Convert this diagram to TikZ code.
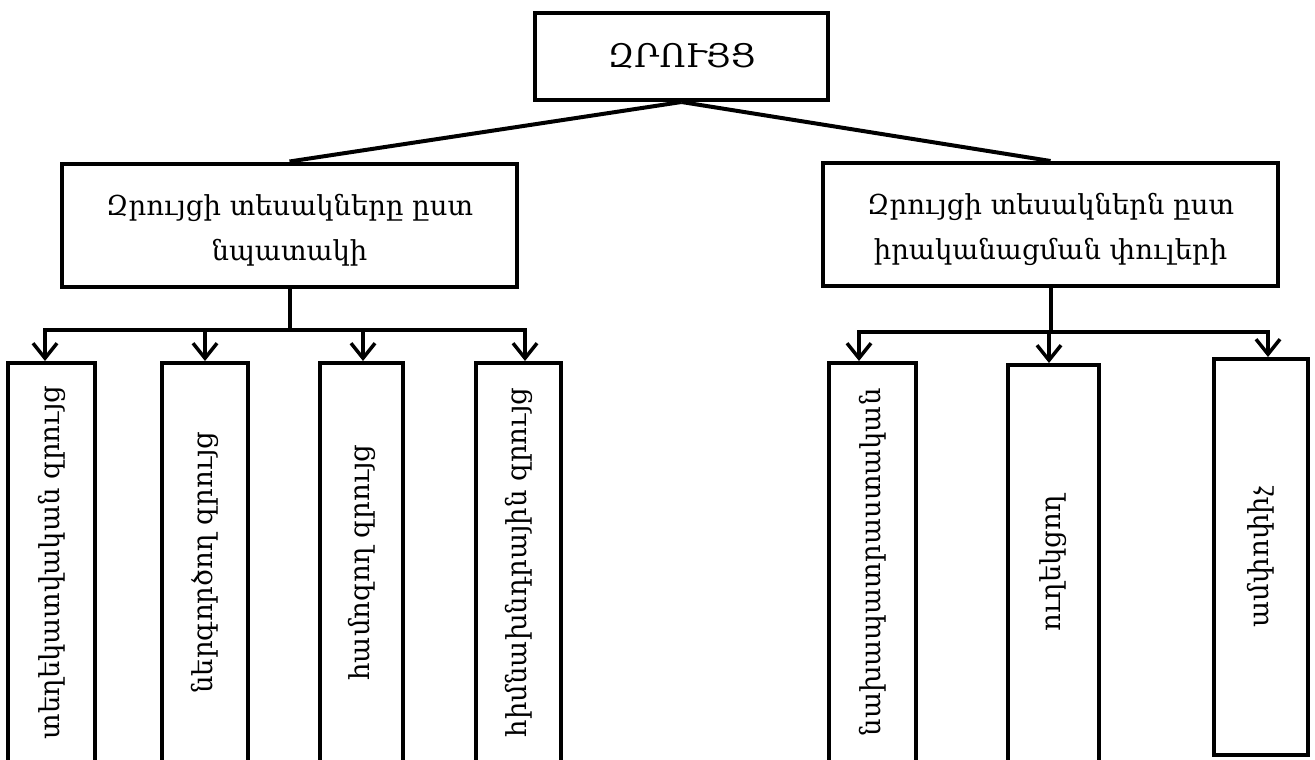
\documentclass[tikz,border=0pt]{standalone}
\usepackage{fontspec}
\setmainfont{DejaVu Serif}
\usetikzlibrary{arrows.meta}
\begin{document}
\begin{tikzpicture}[x=1pt,y=-1pt,
  box/.style={draw,line width=4pt,inner sep=0pt,align=center},
  topbox/.style={box,minimum width=293pt,minimum height=87pt,font=\fontsize{32.5}{38}\selectfont},
  midbox/.style={box,minimum width=455pt,minimum height=123pt},
  midtext/.style={align=center,inner sep=0pt,font=\fontsize{27.5}{45}\selectfont},
  vbox/.style={box,minimum height=399pt,font=\fontsize{27.5}{32}\selectfont},
  conn/.style={line width=4pt},
  arr/.style={line width=4pt,-{Straight Barb[length=15pt,width=24pt,line width=3.5pt]}}]
\useasboundingbox (0,0) rectangle (1315,760);
\node[topbox] (top) at (681.5,56.5) {ԶՐՈՒՅՑ};
\node[midbox] (lm) at (289.5,225) {};
\node[midtext] (lmt) at ([yshift=-5pt]lm.center) {Զրույցի տեսակները ըստ\\նպատակի};
\node[midbox] (rm) at (1050.5,224.5) {};
\node[midtext] (rmt) at ([yshift=-5pt]rm.center) {Զրույցի տեսակներն ըստ\\իրականացման փուլերի};
\node[vbox,minimum width=87pt] (b1) at (51.5,562.5) {\rotatebox{90}{տեղեկատվական զրույց}};
\node[vbox,minimum width=86pt] (b2) at (205,562.5) {\rotatebox{90}{ներգործող զրույց}};
\node[vbox,minimum width=83pt] (b3) at (361.5,562.5) {\rotatebox{90}{համոզող զրույց}};
\node[vbox,minimum width=85pt] (b4) at (518.5,562.5) {\rotatebox{90}{հիմնախնդրային զրույց}};
\node[vbox,minimum width=87pt] (r1) at (872.5,562.5) {\rotatebox{90}{նախապատրաստական}};
\node[vbox,minimum width=91pt,minimum height=397pt] (r2) at (1053.5,563.5) {\rotatebox{90}{ուղեկցող}};
\node[vbox,minimum width=94pt,minimum height=396pt] (r3) at (1261,557) {\rotatebox{90}{ամփոփիչ}};
\draw[conn] (top.south) -- (lm.north);
\draw[conn] (top.south) -- (rm.north);
\coordinate (bl1) at (45,330);
\coordinate (bl2) at (205,330);
\coordinate (bl3) at (363,330);
\coordinate (bl4) at (525,330);
\coordinate (br1) at (859,332);
\coordinate (br2) at (1049,332);
\coordinate (br3) at (1268,332);
\draw[conn] (lm.south) -- (lm.south |- bl1);
\draw[conn] (rm.south) -- (rm.south |- br1);
\draw[conn,line cap=rect] (bl1) -- (bl4);
\draw[conn,line cap=rect] (br1) -- (br3);
\draw[arr] (bl1) -- (bl1 |- b1.north);
\draw[arr] (bl2) -- (bl2 |- b2.north);
\draw[arr] (bl3) -- (bl3 |- b3.north);
\draw[arr] (bl4) -- (bl4 |- b4.north);
\draw[arr] (br1) -- (br1 |- r1.north);
\draw[arr] (br2) -- (br2 |- r2.north);
\draw[arr] (br3) -- (br3 |- r3.north);
\end{tikzpicture}
\end{document}
